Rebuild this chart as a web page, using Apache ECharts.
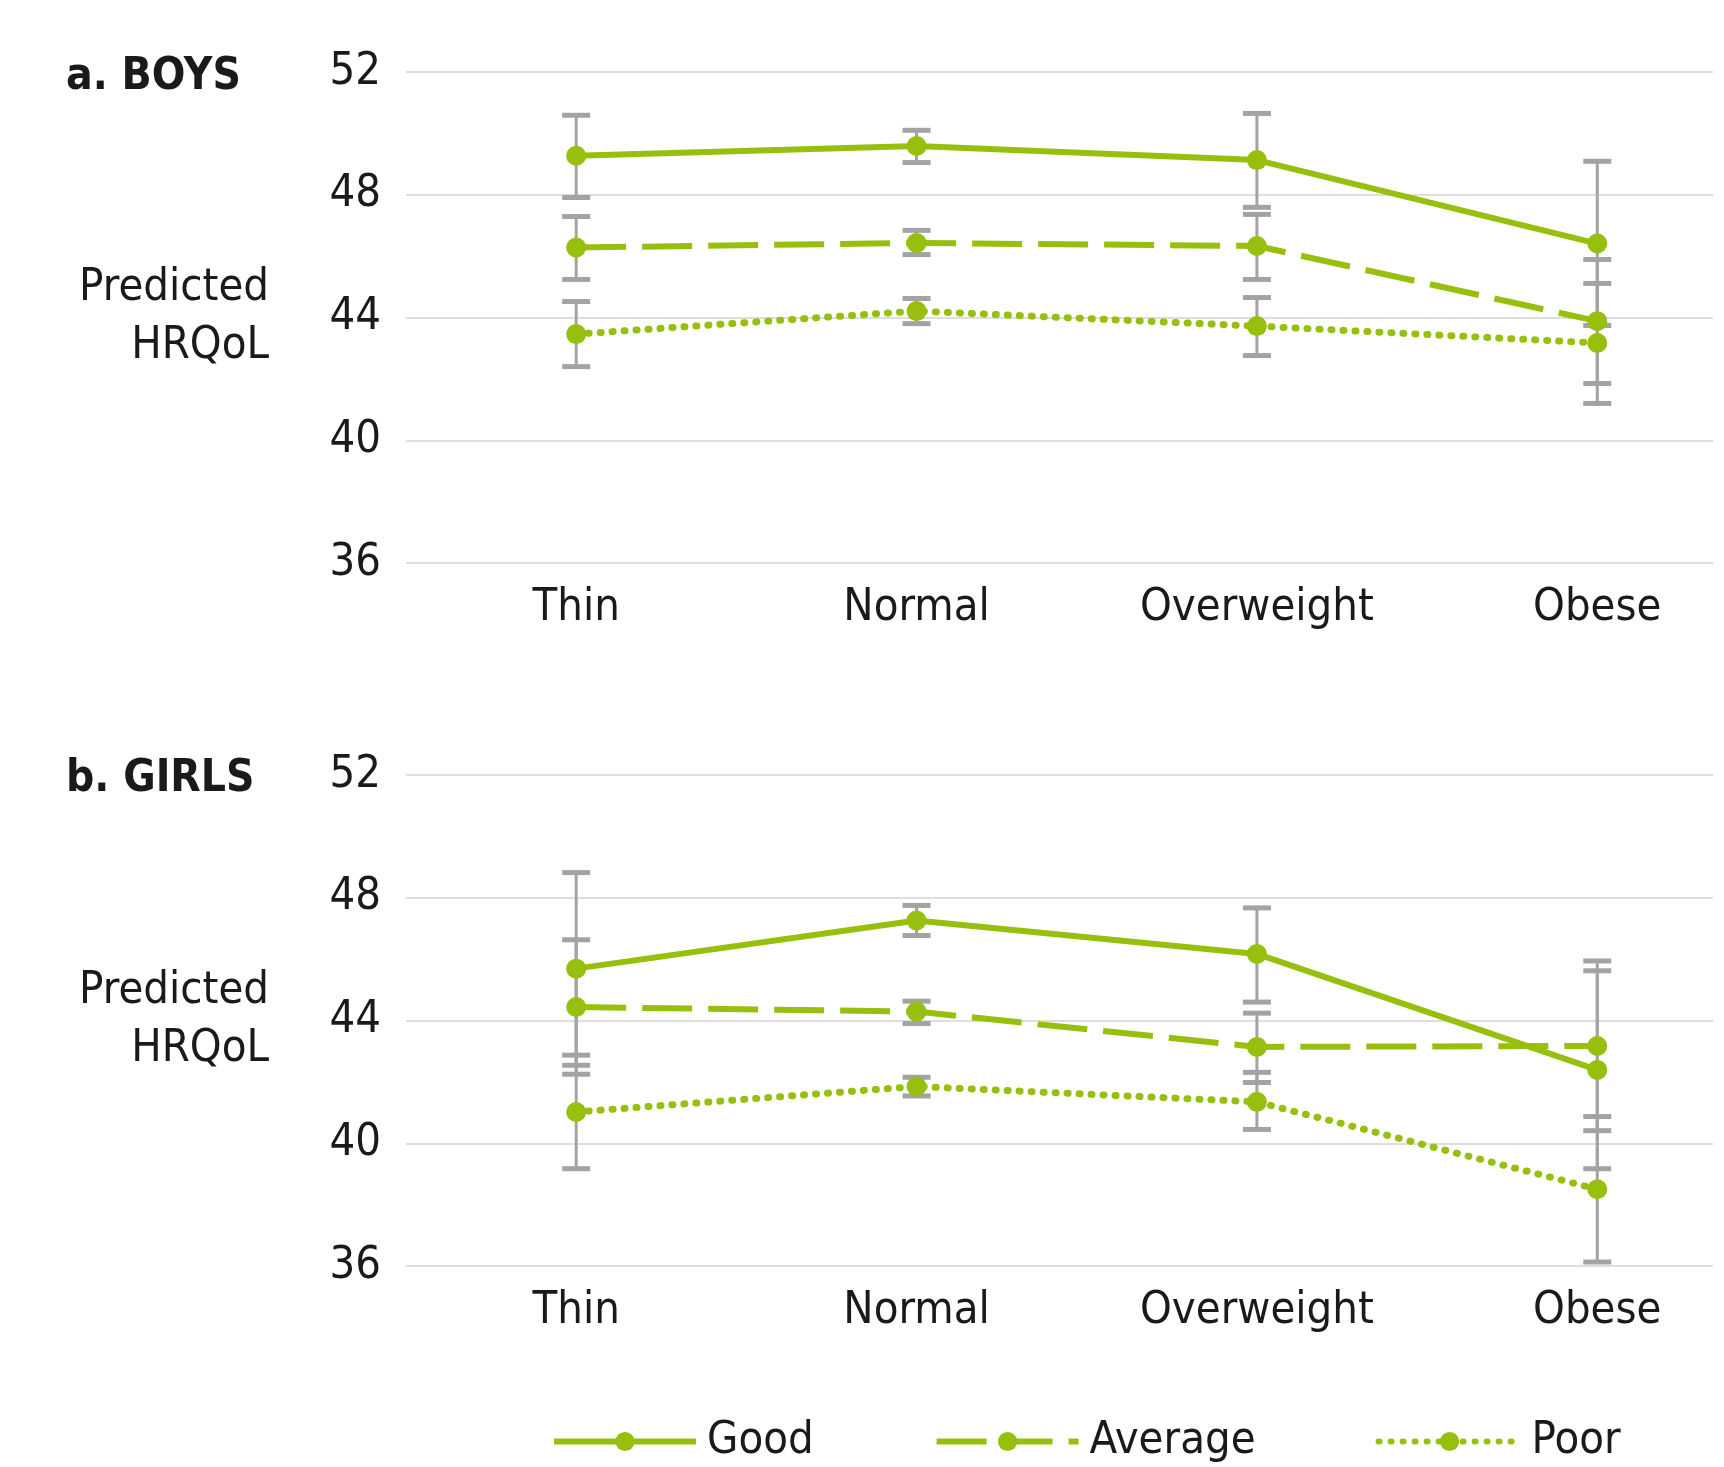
<!DOCTYPE html>
<html>
<head>
<meta charset="utf-8">
<title>Predicted HRQoL</title>
<script src="https://cdn.jsdelivr.net/npm/echarts@6.0.0/dist/echarts.min.js"></script>
<style>
  html, body { margin: 0; padding: 0; background: #fff; }
  #chart { width: 1724px; height: 1467px; }
</style>
</head>
<body>
<div id="chart"></div>
<script>
// categories and tick labels
var categories = ['Thin', 'Normal', 'Overweight', 'Obese']
var yTicks = [36, 40, 44, 48, 52]
var seriesNames = ['Good', 'Average', 'Poor']

// a. BOYS
var boysGood = [49.27, 49.59, 49.13, 46.41]
var boysGoodLow = [47.91, 49.05, 47.59, 43.74]
var boysGoodHigh = [50.59, 50.10, 50.65, 49.09]
var boysAverage = [46.28, 46.43, 46.33, 43.88]
var boysAverageLow = [45.24, 46.05, 45.24, 41.85]
var boysAverageHigh = [47.29, 46.84, 47.36, 45.89]
var boysPoor = [43.46, 44.21, 43.72, 43.17]
var boysPoorLow = [42.40, 43.80, 42.76, 41.20]
var boysPoorHigh = [44.52, 44.62, 44.65, 45.11]

// b. GIRLS
var girlsGood = [45.69, 47.26, 46.17, 42.39]
var girlsGoodLow = [42.54, 46.77, 44.60, 39.17]
var girlsGoodHigh = [48.82, 47.75, 47.67, 45.62]
var girlsAverage = [44.44, 44.29, 43.14, 43.17]
var girlsAverageLow = [42.25, 43.90, 41.98, 40.41]
var girlsAverageHigh = [46.63, 44.63, 44.24, 45.94]
var girlsPoor = [41.02, 41.85, 41.35, 38.50]
var girlsPoorLow = [39.17, 41.54, 40.45, 36.13]
var girlsPoorHigh = [42.87, 42.15, 42.31, 40.87]

var FONT = "'DejaVu Sans Condensed', 'Liberation Sans Narrow', sans-serif"
var FONT_SIZE = 45
var GREEN = '#97bf0d'
var GREY = '#a3a3a3'
var TEXT = '#1a1a1a'

var lineTypes = {
  Good: { type: 'solid', cap: 'butt', width: 6 },
  Average: { type: [50, 16], cap: 'butt', width: 6 },
  Poor: { type: [1, 11], cap: 'round', width: 7 },
}

function initEcharts() {
  let chart = echarts.init(document.getElementById('chart'))

  function toPoints(values) {
    return values.map(function (v, i) {
      return [i, v]
    })
  }

  function toBars(low, high) {
    return low.map(function (v, i) {
      return [i, v, high[i]]
    })
  }

  //误差线
  function renderErrorBar(params, api) {
    var x = api.value(0)
    var low = api.coord([x, api.value(1)])
    var high = api.coord([x, api.value(2)])
    var half = 14
    return {
      type: 'group',
      children: [
        {
          type: 'line',
          shape: { x1: low[0], y1: low[1], x2: high[0], y2: high[1] },
          style: { stroke: GREY, lineWidth: 3 },
        },
        {
          type: 'line',
          shape: { x1: high[0] - half, y1: high[1], x2: high[0] + half, y2: high[1] },
          style: { stroke: GREY, lineWidth: 5 },
        },
        {
          type: 'line',
          shape: { x1: low[0] - half, y1: low[1], x2: low[0] + half, y2: low[1] },
          style: { stroke: GREY, lineWidth: 5 },
        },
      ],
    }
  }

  function lineSeries(name, values, axis) {
    return {
      name: name,
      type: 'line',
      xAxisIndex: axis,
      yAxisIndex: axis,
      data: toPoints(values),
      symbol: 'circle',
      symbolSize: 20,
      showSymbol: true,
      z: 3,
      itemStyle: { color: GREEN },
      lineStyle: {
        color: GREEN,
        width: lineTypes[name].width,
        type: lineTypes[name].type,
        cap: lineTypes[name].cap,
      },
    }
  }

  function barSeries(low, high, axis) {
    return {
      type: 'custom',
      xAxisIndex: axis,
      yAxisIndex: axis,
      renderItem: renderErrorBar,
      encode: { x: 0, y: [1, 2] },
      data: toBars(low, high),
      z: 2,
      silent: true,
    }
  }

  function xAxis(grid) {
    return {
      type: 'value',
      gridIndex: grid,
      min: -0.5,
      max: 3.34,
      axisLine: { show: false },
      axisTick: { show: false },
      splitLine: { show: false },
      axisLabel: {
        customValues: [0, 1, 2, 3],
        formatter: function (v) {
          return categories[Math.round(v)]
        },
        fontSize: FONT_SIZE,
        fontFamily: FONT,
        color: TEXT,
        margin: 23,
      },
    }
  }

  function yAxis(grid) {
    return {
      type: 'value',
      gridIndex: grid,
      min: yTicks[0],
      max: yTicks[yTicks.length - 1],
      interval: 4,
      name: 'Predicted\nHRQoL',
      nameLocation: 'middle',
      nameRotate: 0,
      nameGap: 137,
      nameTextStyle: {
        fontSize: FONT_SIZE,
        fontFamily: FONT,
        color: TEXT,
        align: 'right',
        verticalAlign: 'middle',
        lineHeight: 58,
      },
      axisLine: { show: false },
      axisTick: { show: false },
      splitLine: { lineStyle: { color: '#dedede', width: 2 } },
      axisLabel: {
        fontSize: FONT_SIZE,
        fontFamily: FONT,
        color: TEXT,
        margin: 25,
      },
    }
  }

  var titleStyle = { fontSize: 44, fontWeight: 'bold', fontFamily: FONT, color: TEXT }

  var option = {
    animation: false,
    backgroundColor: '#fff',
    title: [
      { text: 'a. BOYS', left: 66, top: 56, padding: 0, textStyle: titleStyle },
      { text: 'b. GIRLS', left: 66, top: 758, padding: 0, textStyle: titleStyle },
    ],
    legend: {
      data: seriesNames,
      left: 546,
      top: 1414,
      itemWidth: 142,
      itemHeight: 24,
      itemGap: 120,
      lineStyle: { width: 6 },
      textStyle: { fontSize: FONT_SIZE, fontFamily: FONT, color: TEXT, padding: [0, 0, 0, 6] },
    },
    grid: [
      { left: 406, right: 11, top: 72, height: 491 },
      { left: 406, right: 11, top: 775, height: 491 },
    ],
    xAxis: [xAxis(0), xAxis(1)],
    yAxis: [yAxis(0), yAxis(1)],
    series: [
      barSeries(boysGoodLow, boysGoodHigh, 0),
      barSeries(boysAverageLow, boysAverageHigh, 0),
      barSeries(boysPoorLow, boysPoorHigh, 0),
      lineSeries('Good', boysGood, 0),
      lineSeries('Average', boysAverage, 0),
      lineSeries('Poor', boysPoor, 0),
      barSeries(girlsGoodLow, girlsGoodHigh, 1),
      barSeries(girlsAverageLow, girlsAverageHigh, 1),
      barSeries(girlsPoorLow, girlsPoorHigh, 1),
      lineSeries('Good', girlsGood, 1),
      lineSeries('Average', girlsAverage, 1),
      lineSeries('Poor', girlsPoor, 1),
    ],
  }
  chart.setOption(option)

  window.addEventListener('resize', function () {
    chart.resize()
  })
}

initEcharts()
</script>
</body>
</html>
